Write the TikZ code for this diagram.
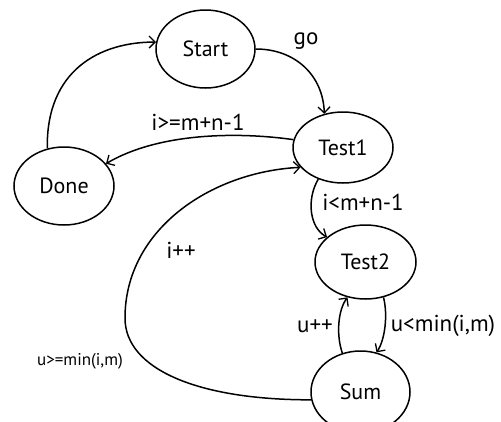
\documentclass[tikz,border=0pt]{standalone}
\usepackage{fontspec}
\setmainfont{PT Sans}
\usetikzlibrary{shapes.geometric,arrows.meta}
\begin{document}
\begin{tikzpicture}[x=1pt,y=-1pt,
  state/.style={draw,ellipse,line width=1.5pt,inner sep=0pt,font=\fontsize{22}{24}\selectfont},
  conn/.style={line width=1.5pt,-{Straight Barb[length=6pt,width=12pt,line width=1.3pt]}},
  lbl/.style={font=\fontsize{23}{26}\selectfont,inner sep=0pt},
  slbl/.style={font=\fontsize{17}{20}\selectfont,inner sep=0pt}]
\useasboundingbox (0,0) rectangle (501,421);
\node[state,minimum width=99pt,minimum height=78pt] (start) at (205.5,49) {Start};
\node[state,minimum width=100pt,minimum height=71pt] (test1) at (343,147.5) {Test1};
\node[state,minimum width=101pt,minimum height=74pt] (test2) at (365.5,262) {Test2};
\node[state,minimum width=99pt,minimum height=82pt] (sum) at (360.5,392) {Sum};
\node[state,minimum width=100pt,minimum height=78pt] (done) at (64,186) {Done};
\coordinate (loopL) at (125,318);
\draw[conn] (done.114) .. controls (46,70) and (100,42) .. (start.172);
\draw[conn] (start.0) .. controls (295,49) and (323,75) .. (test1.119);
\draw[conn] (test1.171) .. controls (240,132) and (160,132) .. (done.28);
\draw[conn] (sum.189) .. controls (200,400) and (125,370) .. (loopL) .. controls (125,230) and (210,172) .. (test1.205);
\draw[conn] (test1.232) .. controls (306,200) and (310,228) .. (test2.147);
\draw[conn] (test2.297) .. controls (388,315) and (385,340) .. (sum.68);
\draw[conn] (sum.115) .. controls (336,335) and (338,310) .. (test2.243);
\node[lbl] (lgo) at (306,41) {go};
\node[lbl] (lge) at (198,122) {i>=m+n-1};
\node[lbl] (llt) at (363,202) {i<m+n-1};
\node[lbl] (lumin) at (443,326) {u<min(i,m)};
\node[lbl] (lupp) at (315,326) {u++};
\node[lbl] (lipp) at (181,250) {i++};
\node[slbl] (lugemin) at (80,361) {u>=min(i,m)};
\end{tikzpicture}
\end{document}
